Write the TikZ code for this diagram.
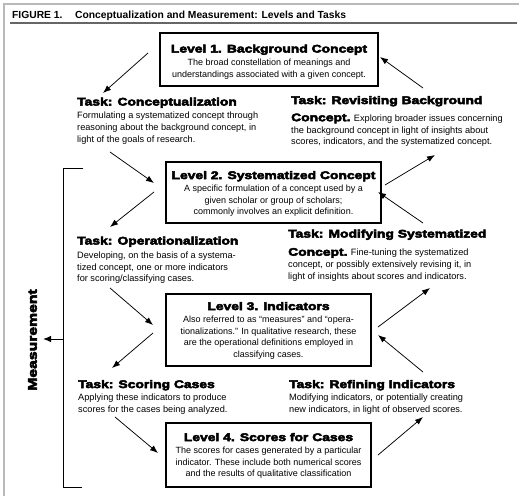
\documentclass[tikz,border=0pt]{standalone}
\usepackage{fontspec}
\setmainfont{Liberation Sans}
\newfontfamily\heavyfont[FakeBold=4.5,FakeStretch=1.26]{Liberation Sans Bold}
\usetikzlibrary{arrows.meta}
\newcommand{\fl}{\rule{0pt}{8pt}}
\newcommand{\hv}{\heavyfont\fontsize{11}{12}\selectfont}
\tikzset{
 frameline/.style={line width=1.2pt},
 levelbox/.style={draw, line width=1.3pt, inner sep=0, anchor=center},
 ttl/.style={anchor=base, inner sep=0, font=\hv},
 bodyc/.style={anchor=north, inner sep=0, align=center, font=\fontsize{9}{11.8}\selectfont},
 thead/.style={anchor=base west, inner sep=0, font=\hv},
 tbody/.style={anchor=north west, inner sep=0, align=left, font=\fontsize{9.2}{11.8}\selectfont},
 arr/.style={-{Latex[length=8pt,width=6pt]}, line width=0.75pt},
}
\begin{document}
\begin{tikzpicture}[x=1pt,y=-1pt]
\useasboundingbox (0,0) rectangle (519,496);
% frame
\draw[frameline, gray!55] (4,496) -- (4,4) -- (519,4);
\draw[frameline, gray!80!black] (10,23) -- (517,23);
\node[anchor=base west, inner sep=0, font=\bfseries\fontsize{10.3}{12}\selectfont] (fig) at (12,18.5)
  {FIGURE 1.};
\node[anchor=base west, inner sep=0, font=\bfseries\fontsize{10.3}{12}\selectfont] (figt) at (75,18.5)
  {Conceptualization and Measurement: Levels and Tasks};

% level boxes
\node[levelbox, minimum width=218pt, minimum height=53pt] (L1) at (269,59.5) {};
\node[ttl] (L1t) at (269,52.5) {Level 1. Background Concept};
\node[bodyc] (L1b) at (269,57) {\fl The broad constellation of meanings and\\understandings associated with a given concept.};

\node[levelbox, minimum width=215pt, minimum height=61pt] (L2) at (273.5,192.5) {};
\node[ttl] (L2t) at (273.5,179) {Level 2. Systematized Concept};
\node[bodyc] (L2b) at (273.5,183) {\fl A specific formulation of a concept used by a\\given scholar or group of scholars;\\commonly involves an explicit definition.};

\node[levelbox, minimum width=205pt, minimum height=72pt] (L3) at (268.5,330) {};
\node[ttl] (L3t) at (268.5,310) {Level 3. Indicators};
\node[bodyc] (L3b) at (268.5,314) {\fl Also referred to as “measures” and “opera-\\tionalizations.” In qualitative research, these\\are the operational definitions employed in\\classifying cases.};

\node[levelbox, minimum width=205pt, minimum height=64pt] (L4) at (268.5,455) {};
\node[ttl] (L4t) at (268.5,441) {Level 4. Scores for Cases};
\node[bodyc] (L4b) at (268.5,445) {\fl The scores for cases generated by a particular\\indicator. These include both numerical scores\\and the results of qualitative classification};

% tasks
\node[thead] (T1h) at (77,105.5) {Task: Conceptualization};
\node[tbody] (T1b) at (77,110.5) {\fl Formulating a systematized concept through\\reasoning about the background concept, in\\light of the goals of research.};

\node[thead] (T2h) at (291,104) {Task: Revisiting Background};
\node[tbody] (T2b) at (291,113) {\fl{\hv Concept.} Exploring broader issues concerning\\the background concept in light of insights about\\scores, indicators, and the systematized concept.};

\node[thead] (T3h) at (77,244.5) {Task: Operationalization};
\node[tbody] (T3b) at (77,250) {\fl Developing, on the basis of a systema-\\tized concept, one or more indicators\\for scoring/classifying cases.};

\node[thead] (T4h) at (288,237.5) {Task: Modifying Systematized};
\node[tbody] (T4b) at (288,247.5) {\fl{\hv Concept.} Fine-tuning the systematized\\concept, or possibly extensively revising it, in\\light of insights about scores and indicators.};

\node[thead] (T5h) at (78,388) {Task: Scoring Cases};
\node[tbody] (T5b) at (78,392) {\fl Applying these indicators to produce\\scores for the cases being analyzed.};

\node[thead] (T6h) at (289,388) {Task: Refining Indicators};
\node[tbody] (T6b) at (289,392) {\fl Modifying indicators, or potentially creating\\new indicators, in light of observed scores.};

% arrow end coordinates
\coordinate (c1a) at (148,53);  \coordinate (c1b) at (103,93);
\coordinate (r1a) at (423,88);  \coordinate (r1b) at (380,57);
\coordinate (c2a) at (110,152); \coordinate (c2b) at (154,183);
\coordinate (o2a) at (154,192); \coordinate (o2b) at (110,227);
\coordinate (r2a) at (385,185); \coordinate (r2b) at (435,155);
\coordinate (m2a) at (423,223); \coordinate (m2b) at (378,192);
\coordinate (o3a) at (110,288); \coordinate (o3b) at (153,325);
\coordinate (s3a) at (153,333); \coordinate (s3b) at (112,368);
\coordinate (m3a) at (378,327); \coordinate (m3b) at (430,288);
\coordinate (f3a) at (423,372); \coordinate (f3b) at (378,335);
\coordinate (s4a) at (115,417); \coordinate (s4b) at (158,453);
\coordinate (f4a) at (378,455); \coordinate (f4b) at (423,417);
\foreach \p in {c1,r1,c2,o2,r2,m2,o3,s3,m3,f3,s4,f4}
  \draw[arr] (\p a) -- (\p b);

% measurement bracket
\coordinate (mt) at (83,168);
\coordinate (mtc) at (63,168);
\coordinate (mbc) at (63,487);
\coordinate (mb) at (82,487);
\coordinate (mm) at (63,339);
\coordinate (mtip) at (43,339);
\draw[line width=1pt] (mt) -- (mtc) -- (mbc) -- (mb);
\draw[line width=1pt, -{Latex[length=8pt,width=6.5pt]}] (mm) -- (mtip);
\node[rotate=90, inner sep=0, font=\heavyfont\fontsize{12.5}{14}\selectfont] (meas) at (32.5,340) {Measurement};
\end{tikzpicture}
\end{document}
